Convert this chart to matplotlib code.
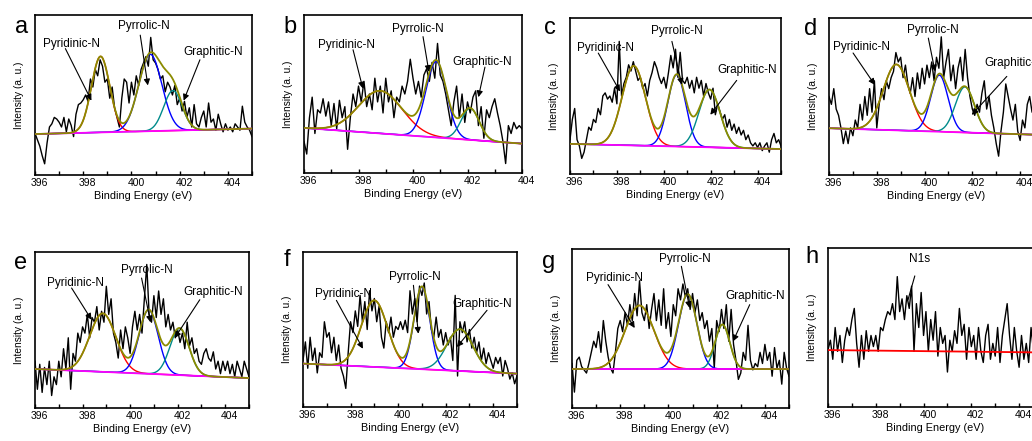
import numpy as np
import matplotlib.pyplot as plt
from matplotlib.transforms import ScaledTranslation

plt.rcParams['font.family'] = ['Liberation Sans', 'DejaVu Sans']

# measured N1s spectra (normalised intensity, step 0.1 eV)
x9 = np.linspace(396, 405, 91)
x8 = np.linspace(396, 404, 81)

spec_a = [0.26, 0.22, 0.18, 0.12, 0.07, 0.2, 0.3, 0.32, 0.36, 0.35,
          0.33, 0.3, 0.36, 0.27, 0.35, 0.31, 0.24, 0.38, 0.44, 0.45,
          0.47, 0.5, 0.46, 0.6, 0.55, 0.66, 0.62, 0.72, 0.68, 0.58,
          0.6, 0.48, 0.55, 0.42, 0.36, 0.3, 0.48, 0.6, 0.58, 0.45,
          0.58, 0.5, 0.62, 0.56, 0.66, 0.7, 0.74, 0.68, 0.86, 0.72,
          0.7, 0.66, 0.6, 0.62, 0.52, 0.58, 0.55, 0.5, 0.56, 0.44,
          0.48, 0.4, 0.46, 0.36, 0.42, 0.3, 0.44, 0.32, 0.3, 0.36,
          0.4, 0.3, 0.45, 0.33, 0.35, 0.28, 0.38, 0.32, 0.27, 0.32,
          0.28, 0.3, 0.27, 0.32, 0.3, 0.28, 0.43, 0.33, 0.3, 0.28, 0.24]
spec_b = [0.2, 0.12, 0.35, 0.48, 0.25, 0.4, 0.38, 0.47, 0.36, 0.45,
          0.3, 0.44, 0.28, 0.46, 0.35, 0.42, 0.15, 0.35, 0.5, 0.42,
          0.55, 0.45, 0.58, 0.42, 0.5, 0.4, 0.6, 0.45, 0.55, 0.38,
          0.6, 0.45, 0.52, 0.35, 0.48, 0.45, 0.55, 0.5, 0.58, 0.72,
          0.6, 0.5, 0.58, 0.48, 0.62, 0.66, 0.58, 0.7, 0.6, 0.82,
          0.62, 0.58, 0.5, 0.4, 0.3, 0.45, 0.55, 0.35, 0.5, 0.32,
          0.45, 0.38, 0.48, 0.52, 0.3, 0.42, 0.22, 0.4, 0.35, 0.42,
          0.47, 0.38, 0.3, 0.2, 0.06, 0.3, 0.25, 0.32, 0.28, 0.3, 0.28]
spec_c = [0.22, 0.35, 0.42, 0.22, 0.18, 0.1, 0.14, 0.22, 0.3, 0.28,
          0.35, 0.33, 0.42, 0.38, 0.5, 0.52, 0.48, 0.5, 0.46, 0.55,
          0.45, 0.85, 0.5, 0.58, 0.62, 0.7, 0.66, 0.72, 0.66, 0.6,
          0.62, 0.55, 0.58, 0.5, 0.6, 0.65, 0.72, 0.68, 0.62, 0.58,
          0.62, 0.55, 0.65, 0.76, 0.68, 0.8, 0.62, 0.78, 0.6, 0.58,
          0.62, 0.55, 0.6, 0.52, 0.62, 0.55, 0.6, 0.5, 0.58, 0.52,
          0.48, 0.55, 0.38, 0.45, 0.4, 0.35, 0.38, 0.3, 0.35, 0.28,
          0.32, 0.26, 0.3, 0.25, 0.28, 0.22, 0.25, 0.2, 0.18, 0.2,
          0.17, 0.2, 0.15, 0.18, 0.2, 0.14, 0.22, 0.26, 0.2, 0.22, 0.18]
spec_d = [0.5, 0.45, 0.55, 0.42, 0.38, 0.3, 0.2, 0.28, 0.2, 0.3,
          0.25, 0.35, 0.3, 0.45, 0.35, 0.5, 0.38, 0.55, 0.4, 0.6,
          0.3, 0.45, 0.55, 0.48, 0.6, 0.55, 0.62, 0.66, 0.78, 0.72,
          0.75, 0.62, 0.7, 0.58, 0.52, 0.62, 0.5, 0.65, 0.55, 0.68,
          0.58, 0.7, 0.62, 0.72, 0.6, 0.75, 0.68, 0.88, 0.62, 0.72,
          0.8, 0.6, 0.7, 0.55, 0.68, 0.75, 0.6, 0.8, 0.62, 0.5,
          0.42, 0.38, 0.45, 0.4, 0.52, 0.6, 0.42, 0.5, 0.38, 0.3,
          0.2, 0.12, 0.28, 0.4, 0.58, 0.5, 0.42, 0.35, 0.45, 0.28,
          0.22, 0.35, 0.3, 0.45, 0.5, 0.4, 0.45, 0.3, 0.4, 0.35, 0.3]
spec_e = [0.3, 0.12, 0.28, 0.1, 0.26, 0.15, 0.3, 0.08, 0.2, 0.15,
          0.3, 0.2, 0.38, 0.25, 0.45, 0.12, 0.35, 0.3, 0.48, 0.42,
          0.52, 0.48, 0.6, 0.45, 0.58, 0.55, 0.65, 0.5, 0.62, 0.55,
          0.78, 0.6, 0.7, 0.48, 0.42, 0.32, 0.5, 0.38, 0.52, 0.45,
          0.35, 0.52, 0.62, 0.5, 0.6, 0.48, 0.7, 0.92, 0.6, 0.55,
          0.72, 0.58, 0.75, 0.6, 0.7, 0.52, 0.6, 0.5, 0.55, 0.45,
          0.5, 0.42, 0.48, 0.38, 0.55, 0.4, 0.45, 0.35, 0.38, 0.3,
          0.28, 0.35, 0.38, 0.32, 0.3, 0.36, 0.25, 0.3, 0.22, 0.3,
          0.24, 0.3, 0.22, 0.28, 0.2, 0.3, 0.25, 0.2, 0.3, 0.25, 0.2]
spec_f = [0.3, 0.42, 0.25, 0.45, 0.3, 0.38, 0.22, 0.35, 0.32, 0.55,
          0.45, 0.48, 0.35, 0.45, 0.3, 0.4, 0.25, 0.2, 0.12, 0.35,
          0.55, 0.48, 0.62, 0.52, 0.72, 0.55, 0.68, 0.5, 0.75, 0.62,
          0.7, 0.55, 0.65, 0.45, 0.38, 0.55, 0.48, 0.58, 0.45, 0.52,
          0.5, 0.55, 0.5, 0.56, 0.48, 0.75, 0.6, 0.7, 0.55, 0.78,
          0.72, 0.8, 0.6, 0.68, 0.5, 0.45, 0.58, 0.45, 0.5, 0.4,
          0.48, 0.4, 0.45, 0.3, 0.72, 0.2, 0.55, 0.48, 0.55, 0.42,
          0.5, 0.38, 0.45, 0.35, 0.42, 0.3, 0.38, 0.28, 0.35, 0.3,
          0.25, 0.32, 0.28, 0.32, 0.2, 0.3, 0.25, 0.18, 0.22, 0.15, 0.2]
spec_g = [0.28, 0.1, 0.3, 0.32, 0.26, 0.24, 0.22, 0.28, 0.35, 0.42,
          0.38, 0.48, 0.35, 0.55, 0.42, 0.32, 0.25, 0.22, 0.35, 0.5,
          0.55, 0.48, 0.6, 0.52, 0.65, 0.55, 0.72, 0.58, 0.8, 0.6,
          0.55, 0.65, 0.5, 0.62, 0.72, 0.55, 0.68, 0.52, 0.75, 0.5,
          0.6, 0.45, 0.65, 0.58, 0.75, 0.68, 0.78, 0.7, 0.75, 0.62,
          0.72, 0.6, 0.68, 0.55, 0.6, 0.5, 0.55, 0.42, 0.5, 0.25,
          0.55, 0.48, 0.62, 0.5, 0.65, 0.42, 0.62, 0.4, 0.3, 0.18,
          0.22, 0.35, 0.3, 0.52, 0.3, 0.24, 0.28, 0.26, 0.35, 0.28,
          0.4, 0.3, 0.35, 0.2, 0.38, 0.25, 0.3, 0.15, 0.35, 0.25, 0.2]
spec_h = [0.36, 0.42, 0.3, 0.5, 0.35, 0.45, 0.28, 0.42, 0.5, 0.45,
          0.55, 0.62, 0.4, 0.25, 0.45, 0.3, 0.48, 0.35, 0.45, 0.38,
          0.45, 0.35, 0.5, 0.48, 0.55, 0.6, 0.58, 0.65, 0.55, 0.82,
          0.6, 0.68, 0.55, 0.7, 0.62, 0.76, 0.35, 0.65, 0.5, 0.72,
          0.45, 0.6, 0.35, 0.55, 0.42, 0.6, 0.32, 0.5, 0.4, 0.45,
          0.22, 0.42, 0.35, 0.48, 0.4, 0.62, 0.45, 0.52, 0.3, 0.5,
          0.38, 0.45, 0.3, 0.5, 0.35, 0.28, 0.45, 0.52, 0.3, 0.4,
          0.32, 0.5, 0.28, 0.45, 0.55, 0.65, 0.45, 0.3, 0.5, 0.35,
          0.25, 0.45, 0.3, 0.4, 0.28, 0.5, 0.35, 0.45, 0.3, 0.4, 0.35]

# fitted components: [pyridinic, pyrrolic, graphitic] centre / height / sigma
cen_a, hgt_a, sig_a = [398.72, 400.78, 401.72], [0.475, 0.48, 0.25], [0.38, 0.48, 0.38]
cen_b, hgt_b, sig_b = [398.8, 400.85, 402.1], [0.27, 0.48, 0.2], [0.8, 0.38, 0.33]
cen_c, hgt_c, sig_c = [398.72, 400.55, 401.95], [0.51, 0.46, 0.37], [0.5, 0.38, 0.45]
cen_d, hgt_d, sig_d = [398.82, 400.62, 401.69], [0.42, 0.36, 0.29], [0.55, 0.36, 0.4]
cen_e, hgt_e, sig_e = [398.85, 400.78, 402.08], [0.375, 0.41, 0.3], [0.55, 0.4, 0.4]
cen_f, hgt_f, sig_f = [399.0, 401.0, 402.6], [0.43, 0.53, 0.27], [0.55, 0.33, 0.55]
cen_g, hgt_g, sig_g = [398.8, 400.8, 402.24], [0.4, 0.47, 0.28], [0.6, 0.38, 0.3]
# linear background (left, right)
bg_a, bg_b, bg_c, bg_d = (0.256, 0.29), (0.285, 0.186), (0.193, 0.16), (0.298, 0.255)
bg_e, bg_f, bg_g, bg_h = (0.25, 0.192), (0.28, 0.215), (0.245, 0.245), (0.358, 0.343)

labels = ['Pyridinic-N', 'Pyrrolic-N', 'Graphitic-N']
# annotation: text pos, arrow start, arrow tip (axes fraction)
ann_a = [((0.17, 0.82), (0.14, 0.79), (0.26, 0.465)),
         ((0.50, 0.93), (0.485, 0.874), (0.52, 0.56)),
         ((0.82, 0.77), (0.76, 0.72), (0.685, 0.465))]
ann_b = [((0.194, 0.81), (0.225, 0.78), (0.27, 0.535)),
         ((0.523, 0.91), (0.546, 0.863), (0.573, 0.64)),
         ((0.818, 0.70), (0.83, 0.67), (0.80, 0.48))]
ann_c = [((0.166, 0.807), (0.134, 0.775), (0.237, 0.529)),
         ((0.506, 0.914), (0.483, 0.85), (0.53, 0.572)),
         ((0.84, 0.664), (0.79, 0.60), (0.665, 0.38))]
ann_d = [((0.151, 0.815), (0.112, 0.777), (0.213, 0.574)),
         ((0.482, 0.926), (0.462, 0.872), (0.493, 0.66)),
         ((0.86, 0.713), (0.827, 0.628), (0.664, 0.383))]
ann_e = [((0.187, 0.801), (0.171, 0.769), (0.264, 0.566)),
         ((0.521, 0.887), (0.498, 0.833), (0.54, 0.549)),
         ((0.832, 0.741), (0.77, 0.694), (0.653, 0.449))]
ann_f = [((0.1875, 0.731), (0.156, 0.688), (0.28, 0.376)),
         ((0.523, 0.839), (0.516, 0.785), (0.539, 0.473)),
         ((0.836, 0.667), (0.86, 0.624), (0.719, 0.387))]
ann_g = [((0.197, 0.818), (0.166, 0.776), (0.289, 0.503)),
         ((0.519, 0.937), (0.504, 0.891), (0.542, 0.629)),
         ((0.846, 0.702), (0.819, 0.65), (0.742, 0.419))]

W, H = 1032, 441
# axes boxes in pixels: left, right, top, bottom
boxes = {'a': (35, 252, 15, 175), 'b': (304, 522, 15, 173),
         'c': (570, 781, 18, 174), 'd': (829, 1044, 18, 175),
         'e': (35, 249, 252, 408), 'f': (303, 517, 252, 407),
         'g': (572, 789, 249, 408), 'h': (828, 1043, 248, 407)}
letter_pos = {'a': (22, 27), 'b': (290, 27), 'c': (550, 28), 'd': (811, 29),
              'e': (21, 263), 'f': (287, 260), 'g': (549, 262), 'h': (812, 257)}

panels = [('a', x9, spec_a, bg_a, cen_a, hgt_a, sig_a, ann_a, 405),
          ('b', x8, spec_b, bg_b, cen_b, hgt_b, sig_b, ann_b, 404),
          ('c', x9, spec_c, bg_c, cen_c, hgt_c, sig_c, ann_c, 405),
          ('d', x9, spec_d, bg_d, cen_d, hgt_d, sig_d, ann_d, 405),
          ('e', x9, spec_e, bg_e, cen_e, hgt_e, sig_e, ann_e, 405),
          ('f', x9, spec_f, bg_f, cen_f, hgt_f, sig_f, ann_f, 405),
          ('g', x9, spec_g, bg_g, cen_g, hgt_g, sig_g, ann_g, 405),
          ('h', x9, spec_h, bg_h, None, None, None, None, 405)]

comp_cols = ['#ff0000', '#0000ff', '#008b8b']

fig = plt.figure(figsize=(W / 100, H / 100), dpi=100)

for key, xs, ys, bg, cen, hgt, sig, ann, xmax in panels:
    l, r, t, b = boxes[key]
    ax = fig.add_axes([l / W, 1 - b / H, (r - l) / W, (b - t) / H])
    xf = np.linspace(396, xmax, 400)
    base = bg[0] + (bg[1] - bg[0]) * (xf - 396) / (xmax - 396)
    ax.plot(xs, ys, color='black', lw=1.0, zorder=2)
    if cen is None:
        ax.plot(xf, base, color='#ff0000', lw=1.3, zorder=3)
        ax.annotate('N1s', xy=(0.372, 0.674), xycoords='axes fraction',
                    xytext=(0.426, 0.93), textcoords='axes fraction',
                    ha='center', va='center', fontsize=8.5,
                    arrowprops=dict(arrowstyle='-', color='black', lw=0.8,
                                    shrinkA=6, shrinkB=0))
    else:
        total = base.copy()
        for c, h, s, col in zip(cen, hgt, sig, comp_cols):
            g = h * np.exp(-0.5 * ((xf - c) / s) ** 2)
            total += g
            ax.plot(xf, base + g, color=col, lw=1.0, zorder=3)
        ax.plot(xf, base, color='#ff00ff', lw=1.3, zorder=3)
        ax.plot(xf, total, color='#8b8b00', lw=1.3, zorder=4)
        for lab, (tp, st, tip) in zip(labels, ann):
            ax.text(tp[0], tp[1], lab, transform=ax.transAxes, ha='center',
                    va='center', fontsize=8.5, zorder=6)
            ax.annotate('', xy=tip, xycoords='axes fraction', xytext=st,
                        textcoords='axes fraction',
                        arrowprops=dict(arrowstyle='-|>', color='black', lw=0.8,
                                        mutation_scale=9, shrinkA=0, shrinkB=0),
                        zorder=6)
    ax.set_xlim(396, xmax)
    ax.set_ylim(0, 1)
    ax.set_yticks([])
    ax.set_xticks(np.arange(396, xmax + 0.1, 2))
    ax.set_xticks(np.arange(397, xmax + 0.1, 2), minor=True)
    ax.tick_params(axis='x', which='both', direction='in', length=3, width=1,
                   labelsize=7.5, pad=2)
    for lbl in ax.get_xticklabels():
        lbl.set_transform(lbl.get_transform() + ScaledTranslation(0.045, 0, fig.dpi_scale_trans))
    for sp in ax.spines.values():
        sp.set_linewidth(1.2)
    ax.set_xlabel('Binding Energy (eV)', fontsize=7.8, labelpad=2)
    ax.set_ylabel('Intensity (a. u.)', fontsize=7.3, labelpad=8)
    lx, ly = letter_pos[key]
    fig.text(lx / W, 1 - ly / H, key, fontsize=17, ha='center', va='center')

fig.savefig('out.png', dpi=100)
